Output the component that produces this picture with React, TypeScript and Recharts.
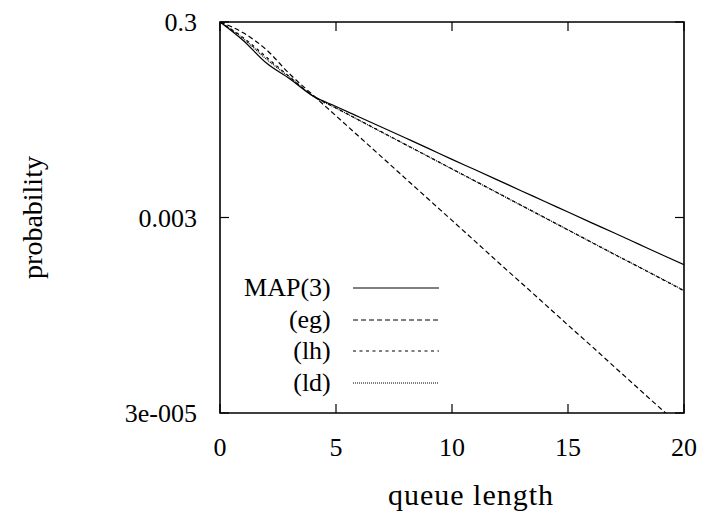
import React from 'react';
import { LineChart, Line, XAxis, YAxis, Legend, Label, ReferenceArea } from 'recharts';

// values (log y axis)
const queueLength = [0, 1, 2, 3, 4, 5, 6, 7, 8, 9, 10, 11, 12, 13, 14, 15, 16, 17, 18, 19, 20];
const map3 = [0.3, 0.194, 0.114, 0.0789, 0.0527, 0.041, 0.032, 0.025, 0.0195, 0.0152, 0.0118, 0.00923, 0.0072, 0.00561, 0.00438, 0.00341, 0.00266, 0.00208, 0.00162, 0.00126, 0.000985];
const eg = [0.3, 0.233, 0.156, 0.0883, 0.0538, 0.0329, 0.0201, 0.0123, 0.0075, 0.00458, 0.0028, 0.00171, 0.00104, 0.000638, 0.00039, 0.000238, 0.000146, 0.0000889, 0.0000543, 0.0000332, 0.0000203];
const lh = [0.3, 0.2076, 0.131, 0.0826, 0.0527, 0.0396, 0.0297, 0.0223, 0.0167, 0.01256, 0.00942, 0.00708, 0.00531, 0.00398, 0.00299, 0.00224, 0.00168, 0.00126, 0.000949, 0.000712, 0.000533];
const ld = [0.3, 0.203, 0.125, 0.0817, 0.0525, 0.0395, 0.0296, 0.0222, 0.0167, 0.01253, 0.0094, 0.00706, 0.0053, 0.00397, 0.00298, 0.00224, 0.00168, 0.00126, 0.000952, 0.000716, 0.000538];

const xTicks = [0, 5, 10, 15, 20];
const yTicks = [0.00003, 0.003, 0.3];
const yTickLabels = ['3e-005', '0.003', '0.3'];

const series = [
  { key: 'map3', name: 'MAP(3)', dash: undefined as string | undefined },
  { key: 'eg', name: '(eg)', dash: '5 3' },
  { key: 'lh', name: '(lh)', dash: '3 3.5' },
  { key: 'ld', name: '(ld)', dash: '1 1' },
];

const data = queueLength.map((q, i) => ({ q, map3: map3[i], eg: eg[i], lh: lh[i], ld: ld[i] }));

const FONT = '"Liberation Serif", serif';
const TICK_LEN = 9;
// plot box in page pixels (chart sits at 0,0)
const W = 707;
const H = 518;
const M = { top: 22, right: 23, left: 220, bottom: 105 };
const PLOT_TOP = M.top;
const PLOT_BOTTOM = H - M.bottom;
const PLOT_LEFT = M.left;
const PLOT_RIGHT = W - M.right;

// x ticks point inward at bottom and top
const XTick = (props: any) => {
  const { x, payload } = props;
  return (
    <g>
      <line x1={x} y1={PLOT_BOTTOM} x2={x} y2={PLOT_BOTTOM - TICK_LEN} stroke="#000" strokeWidth={1.2} />
      <line x1={x} y1={PLOT_TOP} x2={x} y2={PLOT_TOP + TICK_LEN} stroke="#000" strokeWidth={1.2} />
      <text x={x} y={PLOT_BOTTOM + 43} textAnchor="middle" fontFamily={FONT} fontSize={26} fill="#000">
        {payload.value}
      </text>
    </g>
  );
};

// y ticks point inward at left and right
const YTick = (props: any) => {
  const { y, payload } = props;
  const idx = yTicks.indexOf(payload.value);
  return (
    <g>
      <line x1={PLOT_LEFT} y1={y} x2={PLOT_LEFT + TICK_LEN} y2={y} stroke="#000" strokeWidth={1.2} />
      <line x1={PLOT_RIGHT} y1={y} x2={PLOT_RIGHT - TICK_LEN} y2={y} stroke="#000" strokeWidth={1.2} />
      <text x={PLOT_LEFT - 23} y={y + 9} textAnchor="end" fontFamily={FONT} fontSize={26} fill="#000">
        {idx >= 0 ? yTickLabels[idx] : payload.value}
      </text>
    </g>
  );
};

const XTitle = (props: any) => {
  const { viewBox } = props;
  const cx = viewBox.x + viewBox.width / 2 + 19;
  return (
    <text x={cx} y={PLOT_BOTTOM + 92} textAnchor="middle" fontFamily={FONT} fontSize={30} letterSpacing={1} fill="#000">
      queue length
    </text>
  );
};

const LegendBox = () => (
  <div style={{ fontFamily: FONT, fontSize: 26, color: '#000' }}>
    {series.map((s) => (
      <div key={s.key} style={{ display: 'flex', alignItems: 'center', height: 31.7 }}>
        <span style={{ width: 134, textAlign: 'right', lineHeight: '26px' }}>{s.name}</span>
        <svg width={108} height={10} style={{ marginLeft: 22 }}>
          <line x1={0} y1={5} x2={86} y2={5} stroke="#000" strokeWidth={1.2} strokeDasharray={s.dash} />
        </svg>
      </div>
    ))}
  </div>
);

export default function App() {
  return (
    <div style={{ position: 'absolute', left: 0, top: 0, background: '#fff' }}>
      <LineChart width={W} height={H} data={data} margin={{ top: M.top, right: M.right, left: 0, bottom: 0 }}>
        <XAxis
          dataKey="q"
          type="number"
          domain={[0, 20]}
          ticks={xTicks}
          allowDataOverflow
          height={M.bottom}
          tickSize={0}
          tickMargin={0}
          tickLine={false}
          tick={<XTick />}
          axisLine={false}
        >
          <Label content={<XTitle />} />
        </XAxis>
        <YAxis
          scale="log"
          domain={[0.00003, 0.3]}
          ticks={yTicks}
          allowDataOverflow
          width={M.left}
          tickSize={0}
          tickMargin={0}
          tickLine={false}
          tick={<YTick />}
          axisLine={false}
        >
          <Label
            value="probability"
            angle={-90}
            position="insideLeft"
            offset={32}
            style={{ fontFamily: FONT, fontSize: 28, fill: '#000', textAnchor: 'middle' }}
          />
        </YAxis>
        <ReferenceArea
          x1={xTicks[0]}
          x2={xTicks[xTicks.length - 1]}
          y1={yTicks[0]}
          y2={yTicks[yTicks.length - 1]}
          fill="none"
          fillOpacity={0}
          stroke="#000"
          strokeWidth={1.6}
          strokeOpacity={1}
        />
        <Legend
          layout="vertical"
          align="center"
          verticalAlign="middle"
          content={<LegendBox />}
          wrapperStyle={{ position: 'absolute', left: 199, top: 272, width: 260 }}
        />
        {series.map((s) => (
          <Line
            key={s.key}
            type="monotone"
            dataKey={s.key}
            name={s.name}
            stroke="#000"
            strokeWidth={1.2}
            strokeDasharray={s.dash}
            dot={false}
            activeDot={false}
            isAnimationActive={false}
          />
        ))}
      </LineChart>
    </div>
  );
}
